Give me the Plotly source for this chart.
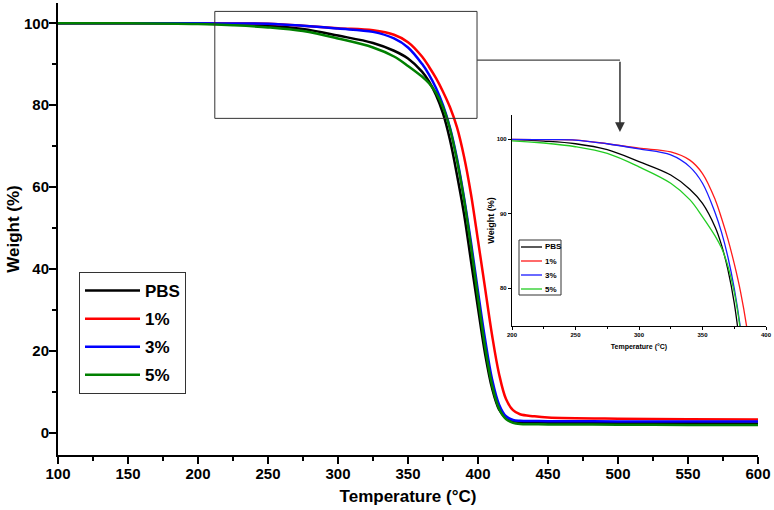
import plotly.graph_objects as go

# ---------------- data ----------------
temperature = [100, 150, 200, 225, 250, 275, 300, 325, 340, 350, 360, 365, 370,
               375, 380, 385, 390, 395, 400, 405, 410, 415, 420, 425, 430, 440,
               450, 500, 550, 600]
pbs = [100, 100, 99.95, 99.75, 99.4, 98.6, 97.0, 95.2, 93.3, 91.4, 88.2, 85.8, 82.5,
       78.0, 71.5, 63.0, 53.5, 42.0, 30.5, 19.5, 11.0, 5.8, 3.7, 2.95, 2.75, 2.6,
       2.55, 2.45, 2.4, 2.35]
pct1 = [100, 100, 100, 99.95, 99.9, 99.4, 98.8, 98.3, 97.2, 95.4, 91.9, 89.4, 86.6,
        83.3, 79.5, 74.6, 67.5, 58.3, 47.0, 35.5, 24.0, 14.5, 8.3, 5.6, 4.6, 4.1,
        3.8, 3.5, 3.4, 3.3]
pct3 = [100, 100, 100, 99.95, 99.9, 99.4, 98.7, 97.9, 96.3, 94.1, 90.1, 87.5, 84.2,
        80.0, 74.5, 67.0, 57.5, 46.5, 34.5, 23.0, 13.2, 7.0, 4.1, 3.2, 3.0, 2.95,
        2.9, 2.85, 2.8, 2.8]
pct5 = [100, 100, 99.8, 99.5, 99.0, 98.1, 96.3, 94.1, 91.9, 89.6, 87.0, 85.4, 83.0,
        79.5, 74.2, 66.5, 57.0, 45.5, 33.0, 21.2, 11.8, 6.0, 3.4, 2.5, 2.2, 2.15,
        2.1, 2.05, 2.0, 2.0]

series_names = ["PBS", "1%", "3%", "5%"]
series_values = [pbs, pct1, pct3, pct5]
main_colors = ["#000000", "#ff0000", "#0000ff", "#008000"]
inset_colors = ["#000000", "#ff1a1a", "#1a1aff", "#22cc22"]

main_xticks = [100, 150, 200, 250, 300, 350, 400, 450, 500, 550, 600]
main_yticks = [0, 20, 40, 60, 80, 100]
inset_xticks = [200, 250, 300, 350, 400]
inset_yticks = [80, 90, 100]

# zoom box and arrow (data coordinates of the main axes)
zoom_box_x = [212, 399.3]
zoom_box_y = [76.8, 102.9]
arrow_x = 501.4
arrow_y = [91.0, 73.5]

# ---------------- layout geometry ----------------
W, H = 774, 510
ml, mr, mt, mb = 58, 8, 3, 55
pw, ph = W - ml - mr, H - mt - mb


def px_x(p):
    return (p - ml) / pw


def px_y(p):
    return (H - mb - p) / ph


FONT = "Arial, Liberation Sans, sans-serif"

fig = go.Figure()

for name, vals, col in zip(series_names, series_values, main_colors):
    fig.add_trace(go.Scatter(
        x=temperature, y=vals, mode="lines", name=name,
        line=dict(color=col, width=2.5, shape="spline", smoothing=1.0),
        xaxis="x", yaxis="y", legendgroup="main_" + name,
        hoverinfo="x+y+name"))

for name, vals, col in zip(series_names, series_values, inset_colors):
    fig.add_trace(go.Scatter(
        x=temperature, y=vals, mode="lines", name=name,
        line=dict(color=col, width=1.3, shape="spline", smoothing=1.0),
        xaxis="x2", yaxis="y2", showlegend=False,
        hoverinfo="x+y+name"))

axis_common = dict(showline=True, linecolor="black", showgrid=False, zeroline=False,
                   ticks="outside", tickcolor="black", mirror=False, automargin=False)

fig.update_layout(
    width=W, height=H,
    margin=dict(l=ml, r=mr, t=mt, b=mb, autoexpand=False),
    paper_bgcolor="white", plot_bgcolor="white",
    font=dict(family=FONT, color="black"),
    xaxis=dict(**axis_common, domain=[0, 700 / pw], range=[100, 600],
               tickvals=main_xticks, linewidth=2, tickwidth=2, ticklen=7,
               ticklabelstandoff=-3,
               minor=dict(dtick=25, tick0=100, ticklen=4, tickwidth=2, ticks="outside",
                          tickcolor="black"),
               tickfont=dict(size=15, weight="bold"),
               title=dict(text="Temperature (°C)", font=dict(size=17, weight="bold"),
                          standoff=9),
               anchor="y"),
    yaxis=dict(**axis_common, domain=[0, 1], range=[-5.35, 104.95],
               tickvals=main_yticks, linewidth=2, tickwidth=2, ticklen=7,
               ticklabelstandoff=-3,
               minor=dict(dtick=10, tick0=0, ticklen=4, tickwidth=2, ticks="outside",
                          tickcolor="black"),
               tickfont=dict(size=15, weight="bold"),
               title=dict(text="Weight (%)", font=dict(size=17, weight="bold"),
                          standoff=0),
               anchor="x"),
    xaxis2=dict(**axis_common, domain=[px_x(512), 1.0], range=[200, 400],
                tickvals=inset_xticks, linewidth=1.3, tickwidth=1, ticklen=3,
                minor=dict(dtick=25, tick0=200, ticklen=2, tickwidth=1, ticks="outside",
                           tickcolor="black"),
                tickfont=dict(size=6, weight="bold"),
                title=dict(text="Temperature (°C)", font=dict(size=7, weight="bold"),
                           standoff=6),
                anchor="y2"),
    yaxis2=dict(**axis_common,
                domain=[px_y(326), px_y(115)],
                range=[74.94, 103.26],
                tickvals=inset_yticks, linewidth=1.3, tickwidth=1, ticklen=3,
                tickfont=dict(size=6, weight="bold"),
                title=dict(text="Weight (%)", font=dict(size=9, weight="bold"),
                           standoff=0),
                anchor="x2"),
    legend=dict(x=px_x(79), y=px_y(272), xanchor="left", yanchor="top",
                bgcolor="white", bordercolor="#333333", borderwidth=1,
                font=dict(size=17, weight="bold"), tracegroupgap=3, itemwidth=55,
                traceorder="grouped"),
    showlegend=True,
)

# zoom rectangle, connector and arrow
fig.add_shape(type="rect", xref="x", yref="y",
              x0=zoom_box_x[0], x1=zoom_box_x[1], y0=zoom_box_y[0], y1=zoom_box_y[1],
              line=dict(color="#333333", width=1))
fig.add_shape(type="line", xref="x", yref="y",
              x0=zoom_box_x[1], x1=arrow_x, y0=arrow_y[0], y1=arrow_y[0],
              line=dict(color="#444444", width=1.2))
fig.add_annotation(x=arrow_x, y=arrow_y[1], ax=arrow_x, ay=arrow_y[0],
                   xref="x", yref="y", axref="x", ayref="y", text="",
                   showarrow=True, arrowhead=2, arrowsize=1.3, arrowwidth=1.5,
                   arrowcolor="#333333")

# compact legend of the inset
fig.add_shape(type="rect", xref="paper", yref="paper",
              x0=px_x(519), x1=px_x(561), y0=px_y(295), y1=px_y(240),
              line=dict(color="#333333", width=1), fillcolor="white", layer="above")
for i, (name, col) in enumerate(zip(series_names, inset_colors)):
    yy = px_y(247 + 14 * i)
    fig.add_shape(type="line", xref="paper", yref="paper",
                  x0=px_x(521), x1=px_x(542), y0=yy, y1=yy,
                  line=dict(color=col, width=1.3), layer="above")
    fig.add_annotation(x=px_x(543), y=yy, xref="paper", yref="paper",
                       text=name, showarrow=False, xanchor="left", yanchor="middle",
                       font=dict(size=8, weight="bold"))

fig.write_html("out.html", config={"displayModeBar": False},
               post_script="document.body.style.margin='0px';")
